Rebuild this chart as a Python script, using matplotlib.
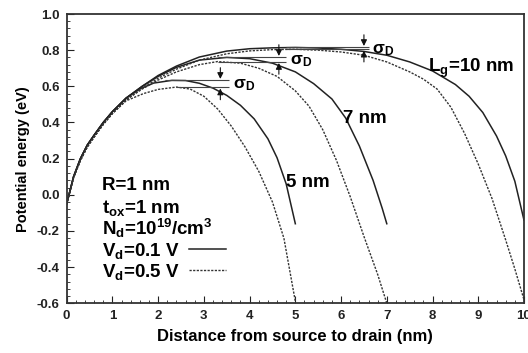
import numpy as np
import matplotlib.pyplot as plt
from matplotlib.lines import Line2D
from matplotlib.ticker import MultipleLocator, FormatStrFormatter

plt.rcParams['font.family'] = ['Liberation Sans', 'DejaVu Sans']
plt.rcParams['font.weight'] = 'bold'
plt.rcParams['mathtext.fontset'] = 'custom'
plt.rcParams['mathtext.rm'] = 'Liberation Sans:bold'
plt.rcParams['mathtext.it'] = 'Liberation Sans:bold'
plt.rcParams['mathtext.bf'] = 'Liberation Sans:bold'

# conduction band profiles, Vd = 0.1 V (solid) and Vd = 0.5 V (dashed)
x10_lo = [0, 0.15, 0.3, 0.45, 0.6, 0.8, 1.0, 1.3, 1.65, 2.0, 2.4, 2.9, 3.5,
          4.0, 4.5, 5.0, 5.5, 6.0, 6.5, 7.0, 7.5, 8.0, 8.5, 8.8, 9.1, 9.4,
          9.6, 9.8, 10.0]
y10_lo = [-0.05, 0.10, 0.20, 0.275, 0.33, 0.40, 0.46, 0.535, 0.60, 0.66,
          0.712, 0.762, 0.795, 0.808, 0.813, 0.815, 0.812, 0.805, 0.793, 0.772,
          0.735, 0.685, 0.61, 0.545, 0.455, 0.325, 0.215, 0.075, -0.14]
x10_hi = [0, 0.15, 0.3, 0.45, 0.6, 0.8, 1.0, 1.3, 1.65, 2.0, 2.4, 2.9, 3.5,
          4.0, 4.5, 5.0, 5.5, 6.0, 6.5, 7.0, 7.5, 7.8, 8.1, 8.4, 8.7, 9.0,
          9.3, 9.6, 9.8, 10.0]
y10_hi = [-0.05, 0.095, 0.19, 0.265, 0.32, 0.39, 0.45, 0.525, 0.59, 0.645,
          0.695, 0.745, 0.78, 0.796, 0.803, 0.805, 0.80, 0.79, 0.772, 0.735,
          0.68, 0.64, 0.585, 0.485, 0.34, 0.17, -0.02, -0.25, -0.41, -0.58]

x7_lo = [0, 0.15, 0.3, 0.45, 0.6, 0.8, 1.0, 1.3, 1.65, 2.0, 2.4, 2.9, 3.5,
         4.0, 4.5, 5.0, 5.4, 5.8, 6.1, 6.4, 6.7, 6.9, 7.0]
y7_lo = [-0.05, 0.10, 0.20, 0.275, 0.33, 0.40, 0.46, 0.535, 0.60, 0.655,
         0.705, 0.745, 0.76, 0.753, 0.728, 0.68, 0.615, 0.53, 0.425, 0.27,
         0.08, -0.075, -0.16]
x7_hi = [0, 0.15, 0.3, 0.45, 0.6, 0.8, 1.0, 1.3, 1.65, 2.0, 2.4, 2.9, 3.3,
         3.8, 4.2, 4.6, 5.0, 5.3, 5.6, 5.9, 6.2, 6.5, 6.8, 7.0]
y7_hi = [-0.05, 0.095, 0.19, 0.265, 0.32, 0.39, 0.45, 0.525, 0.585, 0.635,
         0.68, 0.72, 0.737, 0.728, 0.70, 0.655, 0.575, 0.49, 0.36, 0.19,
         -0.01, -0.23, -0.44, -0.60]

x5_lo = [0, 0.15, 0.3, 0.45, 0.6, 0.8, 1.0, 1.3, 1.6, 1.9, 2.3, 2.6, 2.9,
         3.2, 3.5, 3.8, 4.1, 4.4, 4.6, 4.8, 5.0]
y5_lo = [-0.05, 0.10, 0.20, 0.275, 0.33, 0.40, 0.46, 0.535, 0.585, 0.618,
         0.633, 0.632, 0.617, 0.59, 0.55, 0.495, 0.42, 0.31, 0.205, 0.06,
         -0.16]
x5_hi = [0, 0.15, 0.3, 0.45, 0.6, 0.8, 1.0, 1.3, 1.68, 2.0, 2.4, 2.7, 3.0,
         3.3, 3.6, 3.9, 4.2, 4.5, 4.75, 5.0]
y5_hi = [-0.05, 0.095, 0.19, 0.265, 0.32, 0.39, 0.45, 0.52, 0.56, 0.583,
         0.596, 0.585, 0.545, 0.475, 0.38, 0.265, 0.13, -0.04, -0.24, -0.59]

# barrier heights and the drain-induced lowering marks
peak_lo = [0.633, 0.76, 0.815]
peak_hi = [0.596, 0.737, 0.805]
peak_x_lo = [2.15, 3.3, 4.8]
peak_x_hi = [2.4, 3.3, 4.8]
sigma_x = [3.36, 4.64, 6.5]
line_end = [3.55, 4.8, 6.6]

fig = plt.figure(figsize=(5.28, 3.53), dpi=100)
ax = fig.add_axes([0.1263, 0.1408, 0.8661, 0.8195])

solid = dict(color='#222222', lw=1.1)
dashed = dict(color='#333333', lw=1.0, ls=(0, (1.6, 1.0)))
for xs, ys in [(x10_lo, y10_lo), (x7_lo, y7_lo), (x5_lo, y5_lo)]:
    ax.plot(xs, ys, **solid)
for xs, ys in [(x10_hi, y10_hi), (x7_hi, y7_hi), (x5_hi, y5_hi)]:
    ax.plot(xs, ys, **dashed)

for i in range(3):
    ax.hlines(peak_lo[i], peak_x_lo[i], line_end[i], color='#444444', lw=0.8)
    ax.hlines(peak_hi[i], peak_x_hi[i], line_end[i], color='#444444', lw=0.8)
    arrow = dict(arrowstyle='-|>', color='#111111', lw=0.8,
                 mutation_scale=9, shrinkA=0, shrinkB=0)
    ax.annotate('', xy=(sigma_x[i], peak_lo[i] + 0.008),
                xytext=(sigma_x[i], peak_lo[i] + 0.07), arrowprops=arrow)
    ax.annotate('', xy=(sigma_x[i], peak_hi[i] - 0.008),
                xytext=(sigma_x[i], peak_hi[i] - 0.07), arrowprops=arrow)
    ax.text(line_end[i] + 0.08, (peak_lo[i] + peak_hi[i]) / 2 - 0.01,
            r'σ$_{\rm D}$', fontsize=12.5, va='center', ha='left')

ax.text(7.9, 0.70, r'L$_{g}$=10 nm', fontsize=13.5, va='center')
ax.text(6.05, 0.42, '7 nm', fontsize=13.5, va='center')
ax.text(4.8, 0.07, '5 nm', fontsize=13.5, va='center')

ax.text(0.78, 0.05, 'R=1 nm', fontsize=13.5, va='center')
ax.text(0.78, -0.075, r't$_{ox}$=1 nm', fontsize=13.5, va='center')
ax.text(0.78, -0.185, r'N$_{d}$=10$^{19}$/cm$^{3}$', fontsize=13.5,
        va='center')

handles = [Line2D([], [], **solid), Line2D([], [], **dashed)]
ax.legend(handles, [r'V$_{d}$=0.1 V', r'V$_{d}$=0.5 V'], loc='upper left',
          bbox_to_anchor=(0.78, -0.255), bbox_transform=ax.transData,
          frameon=False, markerfirst=False, borderpad=0, borderaxespad=0,
          handlelength=2.0, handletextpad=0.45, labelspacing=0.05,
          prop=dict(size=13.5, weight='bold'))

ax.set_xlim(0, 10)
ax.set_ylim(-0.6, 1.0)
ax.xaxis.set_major_locator(MultipleLocator(1))
ax.xaxis.set_minor_locator(MultipleLocator(0.2))
ax.yaxis.set_major_locator(MultipleLocator(0.2))
ax.yaxis.set_minor_locator(MultipleLocator(0.04))
ax.yaxis.set_major_formatter(FormatStrFormatter('%.1f'))
ax.tick_params(which='both', direction='in', top=False, right=False,
               labelsize=9.5, colors='#222222')
ax.tick_params(which='major', length=5, width=0.8, pad=5)
ax.tick_params(which='minor', length=2.5, width=0.6)
for s in ax.spines.values():
    s.set_linewidth(1.3)
    s.set_color('#333333')

ax.set_xlabel('Distance from source to drain (nm)', fontsize=12,
              fontweight='bold', labelpad=5)
ax.set_ylabel('Potential energy (eV)', fontsize=10.5, fontweight='bold',
              labelpad=5)

fig.savefig('out.png', dpi=100)
